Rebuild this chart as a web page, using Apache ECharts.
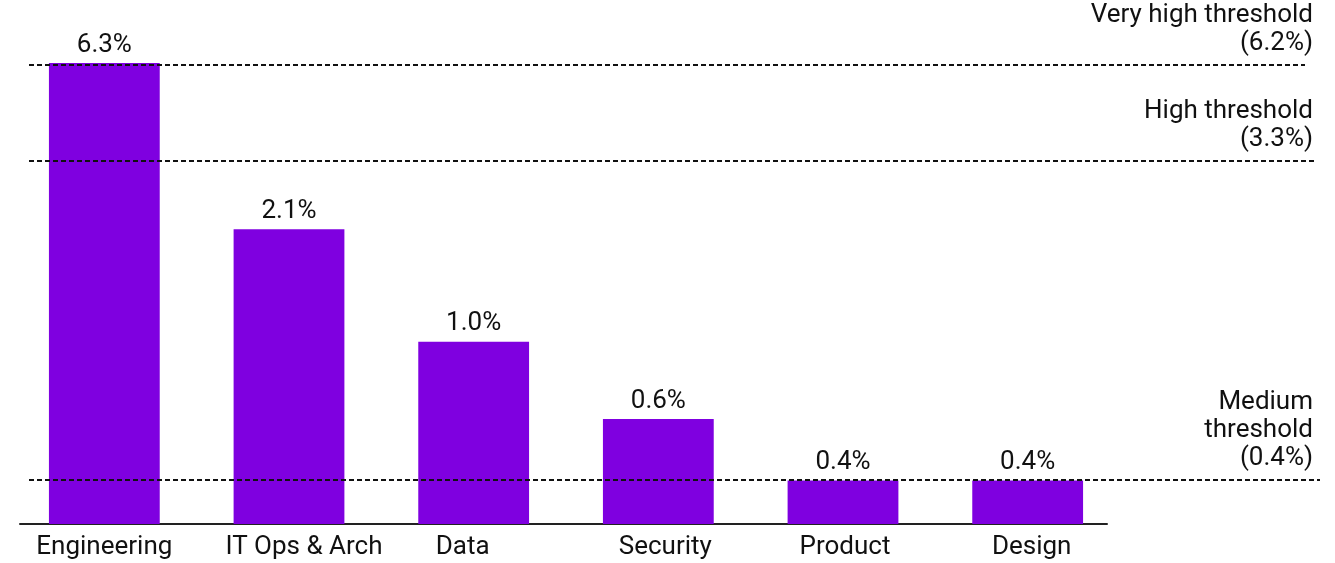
<!DOCTYPE html>
<html>
<head>
<meta charset="utf-8">
<script src="https://cdn.jsdelivr.net/npm/echarts@6/dist/echarts.min.js"></script>
<style>
  html, body { margin: 0; padding: 0; background: #ffffff; }
  #chart { width: 1335px; height: 563px; }
</style>
</head>
<body>
<div id="chart"></div>
<script>
// Share of each function, in percent
const categories = ['Engineering', 'IT Ops & Arch', 'Data', 'Security', 'Product', 'Design'];
const shares = [6.3, 2.1, 1.0, 0.6, 0.4, 0.4];

// Reference thresholds, in percent
const thresholdNames = ['Very high threshold', 'High threshold', 'Medium\nthreshold'];
const thresholdValues = [6.2, 3.3, 0.4];

const FONT = 'Roboto, "Noto Sans", sans-serif';
const TEXT_COLOR = '#111111';
const BAR_COLOR = '#7F00E0';
const Y_MIN = 0.3;
const Y_MAX = 6.3;
const labelShift = [0, 15, -11, 7, 2, 4];      // small horizontal nudge of category names
const lineStartX = 29;
const lineEndX = [1305, 1314, 1320];
const thresholdLabelRight = 1313;

const fmt = v => v.toFixed(1) + '%';

function renderBar(params, api) {
  const i = api.value(0);
  const v = api.value(1);
  const top = api.coord([i, v]);
  const base = api.coord([i, Y_MIN]);
  const w = api.size([1, 0])[0] * 0.6;
  return {
    type: 'group',
    children: [
      {
        type: 'rect',
        shape: { x: top[0] - w / 2, y: top[1], width: w, height: base[1] - top[1] },
        style: { fill: BAR_COLOR }
      },
      {
        type: 'text',
        style: {
          text: fmt(v), x: top[0], y: top[1] - 5,
          align: 'center', verticalAlign: 'bottom',
          fill: TEXT_COLOR, fontSize: 26, fontFamily: FONT
        }
      }
    ]
  };
}

function renderThreshold(params, api) {
  const idx = params.dataIndex;
  const v = api.value(1);
  const y = Math.round(api.coord([0, v])[1]);
  return {
    type: 'group',
    children: [
      {
        type: 'line',
        shape: { x1: lineStartX, y1: y, x2: lineEndX[idx], y2: y },
        style: { stroke: '#111111', lineWidth: 2, lineDash: [5, 3] }
      },
      {
        type: 'text',
        style: {
          text: thresholdNames[idx] + '\n(' + fmt(v) + ')',
          x: thresholdLabelRight, y: y - 8,
          align: 'right', verticalAlign: 'bottom',
          lineHeight: 28,
          fill: TEXT_COLOR, fontSize: 26, fontFamily: FONT
        }
      }
    ]
  };
}

const chart = echarts.init(document.getElementById('chart'), null, { renderer: 'canvas' });

chart.setOption({
  animation: false,
  backgroundColor: '#ffffff',
  grid: [
    { left: 12, right: 215, top: 63, bottom: 39 },
    { left: 20, right: 228, top: 63, bottom: 39 }
  ],
  xAxis: [
    {
      type: 'category',
      gridIndex: 0,
      data: categories.map((c, i) => ({
        value: c,
        textStyle: {
          padding: labelShift[i] >= 0 ? [0, 0, 0, 2 * labelShift[i]] : [0, -2 * labelShift[i], 0, 0]
        }
      })),
      axisLine: { show: false },
      axisTick: { show: false },
      axisLabel: { margin: 10, fontSize: 26, color: TEXT_COLOR, fontFamily: FONT, interval: 0 }
    },
    {
      type: 'category',
      gridIndex: 1,
      data: categories,
      axisLine: { show: true, onZero: false, lineStyle: { color: '#222222', width: 2 } },
      axisTick: { show: false },
      axisLabel: { show: false }
    }
  ],
  yAxis: [
    { type: 'log', gridIndex: 0, min: Y_MIN, max: Y_MAX, show: false },
    { type: 'value', gridIndex: 1, show: false }
  ],
  series: [
    {
      type: 'custom',
      xAxisIndex: 0,
      yAxisIndex: 0,
      renderItem: renderBar,
      encode: { x: 0, y: 1 },
      data: shares.map((v, i) => [i, v]),
      z: 2
    },
    {
      type: 'custom',
      xAxisIndex: 0,
      yAxisIndex: 0,
      renderItem: renderThreshold,
      encode: { x: 0, y: 1 },
      clip: false,
      data: thresholdValues.map((v, i) => [i, v]),
      z: 3
    }
  ]
});
</script>
</body>
</html>
